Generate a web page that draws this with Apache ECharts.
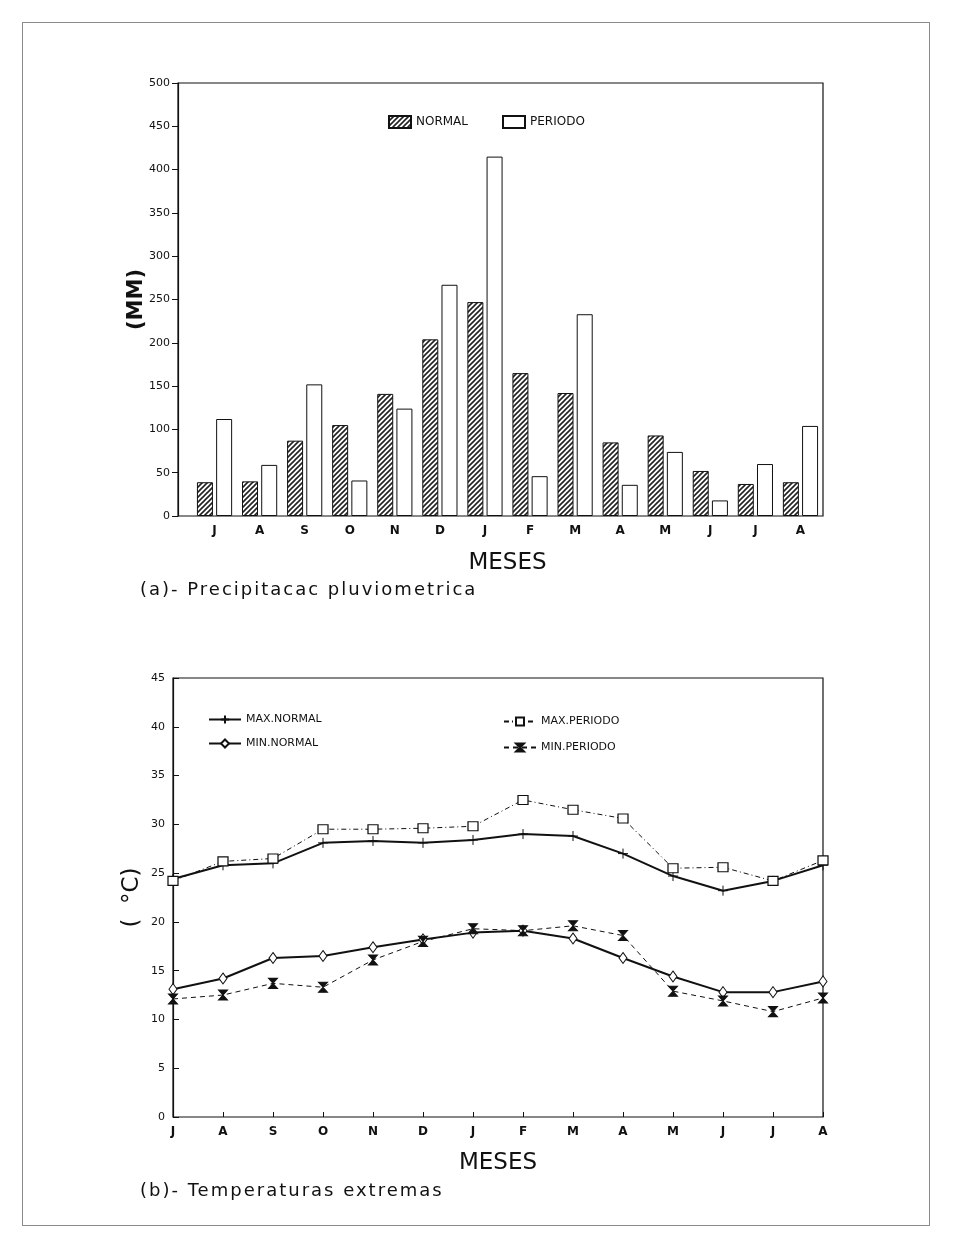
<!DOCTYPE html>
<html>
<head>
<meta charset="utf-8">
<script src="https://cdn.jsdelivr.net/npm/echarts@6/dist/echarts.min.js"></script>
<style>
  html, body { margin: 0; padding: 0; background: #fff; }
  #chart { width: 955px; height: 1233px; }
  #moldura { position: absolute; left: 22px; top: 22px; width: 906px; height: 1202px; border: 1px solid #8a8a8a; pointer-events: none; }
  .legenda { position: absolute; left: 140px; font: 18px "DejaVu Sans"; letter-spacing: 2px; color: #111; white-space: nowrap; }
</style>
</head>
<body>
<div id="chart"></div>
<div id="moldura"></div>
<div class="legenda" style="top:578px">(a)- Precipitacac pluviometrica</div>
<div class="legenda" style="top:1179px">(b)- Temperaturas extremas</div>
<script>
// meses (julho a agosto)
var meses = ['J', 'A', 'S', 'O', 'N', 'D', 'J', 'F', 'M', 'A', 'M', 'J', 'J', 'A'];

// (a) precipitacao (mm)
var chuvaNormal  = [39, 40, 87, 105, 141, 204, 247, 165, 142, 85, 93, 52, 37, 39];
var chuvaPeriodo = [112, 59, 152, 41, 124, 267, 415, 46, 233, 36, 74, 18, 60, 104];

// (b) temperaturas (graus C)
var maxNormal  = [24.4, 25.8, 26.0, 28.1, 28.3, 28.1, 28.4, 29.0, 28.8, 27.0, 24.7, 23.2, 24.2, 25.8];
var maxPeriodo = [24.2, 26.2, 26.5, 29.5, 29.5, 29.6, 29.8, 32.5, 31.5, 30.6, 25.5, 25.6, 24.2, 26.3];
var minNormal  = [13.1, 14.2, 16.3, 16.5, 17.4, 18.2, 18.9, 19.1, 18.3, 16.3, 14.4, 12.8, 12.8, 13.9];
var minPeriodo = [12.1, 12.5, 13.7, 13.3, 16.1, 18.0, 19.3, 19.1, 19.6, 18.6, 12.9, 11.9, 10.8, 12.2];

var fonte = 'DejaVu Sans';
var preto = '#111';

// hachura para as barras "NORMAL"
function hachura() {
    var c = document.createElement('canvas');
    c.width = 5; c.height = 5;
    var ctx = c.getContext('2d');
    ctx.fillStyle = '#fff';
    ctx.fillRect(0, 0, 5, 5);
    ctx.strokeStyle = '#222';
    ctx.lineWidth = 1.6;
    ctx.beginPath();
    ctx.moveTo(-1, 6); ctx.lineTo(6, -1);
    ctx.moveTo(-1, 1); ctx.lineTo(1, -1);
    ctx.moveTo(4, 6); ctx.lineTo(6, 4);
    ctx.stroke();
    return c;
}

var mychart = echarts.init(document.getElementById('chart'));

var rotuloY = { color: preto, fontFamily: fonte, fontSize: 11, margin: 8 };
var rotuloX = { color: preto, fontFamily: fonte, fontSize: 12, fontWeight: 'bold', interval: 0 };
var nomeMeses = { color: preto, fontFamily: fonte, fontSize: 23 };

var option = {
    backgroundColor: '#fff',
    animation: false,
    textStyle: { fontFamily: fonte },
    grid: [
        { left: 178, top: 83, width: 645, height: 433, show: true, borderColor: preto, borderWidth: 1.2 },
        { left: 192, top: 83, width: 631, height: 433 },
        { left: 173, top: 678, width: 650, height: 439, show: true, borderColor: preto, borderWidth: 1.2 }
    ],
    legend: [
        {
            data: ['NORMAL', 'PERIODO'], icon: 'rect',
            left: 383, top: 110, itemWidth: 22, itemHeight: 12, itemGap: 34,
            textStyle: { color: preto, fontFamily: fonte, fontSize: 12 }
        },
        {
            data: ['MAX.NORMAL', 'MIN.NORMAL'],
            orient: 'vertical', left: 203, top: 709, itemWidth: 32, itemHeight: 10, itemGap: 13,
            textStyle: { color: preto, fontFamily: fonte, fontSize: 11 }
        },
        {
            data: ['MAX.PERIODO', 'MIN.PERIODO'],
            orient: 'vertical', left: 498, top: 711, itemWidth: 32, itemHeight: 10, itemGap: 15,
            textStyle: { color: preto, fontFamily: fonte, fontSize: 11 }
        }
    ],
    xAxis: [
        { gridIndex: 0, type: 'value', show: false, min: 0, max: 1 },
        {
            gridIndex: 1, type: 'category', data: meses,
            axisLine: { show: false },
            axisTick: { inside: true, length: 5, lineStyle: { color: preto } },
            axisLabel: Object.assign({ margin: 9 }, rotuloX),
            name: 'MESES', nameLocation: 'middle', nameGap: 36, nameTextStyle: nomeMeses
        },
        {
            gridIndex: 2, type: 'category', data: meses, boundaryGap: false,
            axisLine: { show: false },
            axisTick: { inside: true, length: 5, lineStyle: { color: preto } },
            axisLabel: Object.assign({ margin: 9 }, rotuloX),
            name: 'MESES', nameLocation: 'middle', nameGap: 35, nameTextStyle: nomeMeses
        }
    ],
    yAxis: [
        {
            gridIndex: 0, type: 'value', min: 0, max: 500, interval: 50,
            axisLine: { show: true, lineStyle: { color: preto, width: 1.2 } },
            axisTick: { show: true, length: 6, lineStyle: { color: preto } },
            axisLabel: rotuloY,
            splitLine: { show: false },
            name: '(MM)', nameLocation: 'middle', nameRotate: 90, nameGap: 31, nameMoveOverlap: false,
            nameTextStyle: { color: preto, fontFamily: fonte, fontSize: 21, fontWeight: 'bold' }
        },
        { gridIndex: 1, type: 'value', min: 0, max: 500, show: false },
        {
            gridIndex: 2, type: 'value', min: 0, max: 45, interval: 5,
            axisLine: { show: true, lineStyle: { color: preto, width: 1.2 } },
            axisTick: { show: true, inside: true, length: 6, lineStyle: { color: preto } },
            axisLabel: rotuloY,
            splitLine: { show: false },
            name: '(  °C)', nameLocation: 'middle', nameRotate: 90, nameGap: 29, nameMoveOverlap: false,
            nameTextStyle: { color: preto, fontFamily: fonte, fontSize: 23 }
        }
    ],
    series: [
        {
            name: 'NORMAL', type: 'bar', xAxisIndex: 1, yAxisIndex: 1,
            data: chuvaNormal, barWidth: 16, barGap: '20%',
            itemStyle: { color: { image: hachura(), repeat: 'repeat' }, borderColor: preto, borderWidth: 1 }
        },
        {
            name: 'PERIODO', type: 'bar', xAxisIndex: 1, yAxisIndex: 1,
            data: chuvaPeriodo, barWidth: 16,
            itemStyle: { color: '#fff', borderColor: preto, borderWidth: 1 }
        },
        {
            name: 'MAX.NORMAL', type: 'line', xAxisIndex: 2, yAxisIndex: 2, data: maxNormal,
            symbol: 'path://M0,5L10,5M5,0L5,10', symbolSize: 10,
            itemStyle: { color: preto, borderColor: preto, borderWidth: 1 },
            lineStyle: { color: preto, width: 2 }
        },
        {
            name: 'MIN.NORMAL', type: 'line', xAxisIndex: 2, yAxisIndex: 2, data: minNormal,
            symbol: 'diamond', symbolSize: [8, 11],
            itemStyle: { color: '#fff', borderColor: preto, borderWidth: 1 },
            lineStyle: { color: preto, width: 2 }
        },
        {
            name: 'MAX.PERIODO', type: 'line', xAxisIndex: 2, yAxisIndex: 2, data: maxPeriodo,
            symbol: 'rect', symbolSize: [10, 9],
            itemStyle: { color: '#fff', borderColor: preto, borderWidth: 1.2 },
            lineStyle: { color: preto, width: 1, type: [5, 3, 1, 3] }
        },
        {
            name: 'MIN.PERIODO', type: 'line', xAxisIndex: 2, yAxisIndex: 2, data: minPeriodo,
            symbol: 'path://M0,0L10,0L0,10L10,10Z', symbolSize: [9, 10],
            itemStyle: { color: preto, borderColor: preto, borderWidth: 1 },
            lineStyle: { color: preto, width: 1, type: [5, 4] }
        }
    ]
};

mychart.setOption(option);
</script>
</body>
</html>
